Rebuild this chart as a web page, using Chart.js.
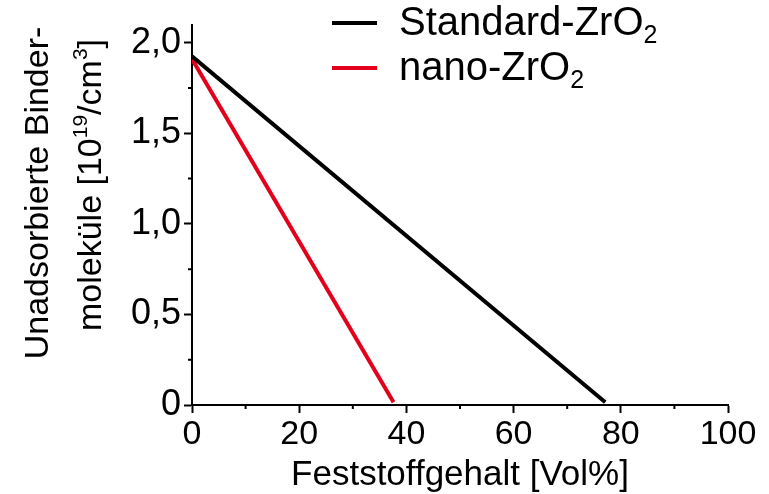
<!DOCTYPE html>
<html>
<head>
<meta charset="utf-8">
<script src="https://cdn.jsdelivr.net/npm/chart.js@4"></script>
<style>
  body { margin: 0; background: #fff; }
  #wrap { width: 769px; height: 494px; }
</style>
</head>
<body>
<div id="wrap"><canvas id="chart" width="769" height="494"></canvas></div>
<script>
// values
const standard_x = [0, 77.1];
const standard_y = [1.925, 0.015];
const nano_x = [0, 37.6];
const nano_y = [1.91, 0.015];
const x_ticks = [0, 20, 40, 60, 80, 100];
const x_minor = [10, 30, 50, 70, 90];
const y_ticks = [0, 0.5, 1.0, 1.5, 2.0];
const y_minor = [0.25, 0.75, 1.25, 1.75];
const series_names = ['Standard-ZrO', 'nano-ZrO'];
const series_colors = ['#000000', '#e2001a'];

const FONT = "'Liberation Sans', Arial, sans-serif";

const to_points = (xs, ys) => xs.map((x, i) => ({x: x, y: ys[i]}));

const fmt_y = v => v === 0 ? '0' : v.toFixed(1).replace('.', ',');

// draws runs of text, some raised or lowered, centred on 0
function draw_runs(ctx, runs, size, small) {
    let total = 0;
    runs.forEach(r => {
        ctx.font = (r[1] ? small : size) + 'px ' + FONT;
        total += ctx.measureText(r[0]).width;
    });
    let pos = -total / 2;
    runs.forEach(r => {
        ctx.font = (r[1] ? small : size) + 'px ' + FONT;
        ctx.fillText(r[0], pos, r[1] ? r[1] : 0);
        pos += ctx.measureText(r[0]).width;
    });
}

const extras = {
    id: 'extras',
    afterDraw(chart) {
        const ctx = chart.ctx;
        const xs = chart.scales.x, ys = chart.scales.y;
        const area = chart.chartArea;
        ctx.save();
        ctx.strokeStyle = '#000';
        ctx.lineWidth = 2;
        ctx.beginPath();
        x_minor.forEach(v => {
            const px = xs.getPixelForValue(v);
            ctx.moveTo(px, area.bottom);
            ctx.lineTo(px, area.bottom + 4);
        });
        y_minor.forEach(v => {
            const py = ys.getPixelForValue(v);
            ctx.moveTo(area.left, py);
            ctx.lineTo(area.left - 4, py);
        });
        ctx.stroke();

        ctx.fillStyle = '#000';
        ctx.textBaseline = 'alphabetic';
        ctx.textAlign = 'left';

        // x title
        ctx.save();
        ctx.translate((area.left + area.right) / 2, 485);
        draw_runs(ctx, [['Feststoffgehalt [Vol%]', 0]], 35, 35);
        ctx.restore();

        // y title, two lines
        ctx.save();
        ctx.translate(48, 193);
        ctx.rotate(-Math.PI / 2);
        draw_runs(ctx, [['Unadsorbierte Binder-', 0]], 34, 34);
        ctx.restore();

        ctx.save();
        ctx.translate(101, 185);
        ctx.rotate(-Math.PI / 2);
        draw_runs(ctx, [
            ['moleküle [10', 0],
            ['19', -14],
            ['/cm', 0],
            ['3', -14],
            [']', 0]
        ], 34, 21);
        ctx.restore();

        // legend
        const leg_y = [23, 68];
        chart.data.datasets.forEach((ds, i) => {
            ctx.strokeStyle = ds.borderColor;
            ctx.lineWidth = 4;
            ctx.beginPath();
            ctx.moveTo(332, leg_y[i]);
            ctx.lineTo(377, leg_y[i]);
            ctx.stroke();
            const base = leg_y[i] + 12;
            ctx.font = '40px ' + FONT;
            ctx.fillText(series_names[i], 399, base);
            const w = ctx.measureText(series_names[i]).width;
            ctx.font = '25px ' + FONT;
            ctx.fillText('2', 399 + w, base + 8);
        });
        ctx.restore();
    }
};

new Chart(document.getElementById('chart'), {
    type: 'scatter',
    data: {
        datasets: [
            {
                label: series_names[0] + '2',
                data: to_points(standard_x, standard_y),
                showLine: true,
                borderColor: series_colors[0],
                borderWidth: 4,
                pointRadius: 0
            },
            {
                label: series_names[1] + '2',
                data: to_points(nano_x, nano_y),
                showLine: true,
                borderColor: series_colors[1],
                borderWidth: 4,
                pointRadius: 0
            }
        ]
    },
    options: {
        responsive: false,
        animation: false,
        layout: { padding: { top: 10, right: 41, left: 0, bottom: 0 } },
        plugins: {
            legend: { display: false },
            tooltip: { enabled: false }
        },
        scales: {
            x: {
                type: 'linear',
                min: 0,
                max: 100,
                afterBuildTicks: scale => { scale.ticks = x_ticks.map(v => ({value: v})); },
                afterFit: scale => { scale.height = 89; },
                grid: { drawOnChartArea: false, drawTicks: true, tickLength: 8, tickColor: '#000', tickWidth: 2 },
                border: { display: true, color: '#000', width: 2 },
                ticks: { color: '#000', font: { family: FONT, size: 34 }, padding: 1, maxRotation: 0 }
            },
            y: {
                type: 'linear',
                min: 0,
                max: 2.1,
                afterBuildTicks: scale => { scale.ticks = y_ticks.map(v => ({value: v})); },
                afterFit: scale => { scale.width = 192; },
                grid: { drawOnChartArea: false, drawTicks: true, tickLength: 8, tickColor: '#000', tickWidth: 2 },
                border: { display: true, color: '#000', width: 2 },
                ticks: { color: '#000', font: { family: FONT, size: 36 }, padding: 3, callback: v => fmt_y(v) }
            }
        }
    },
    plugins: [extras]
});
</script>
</body>
</html>
